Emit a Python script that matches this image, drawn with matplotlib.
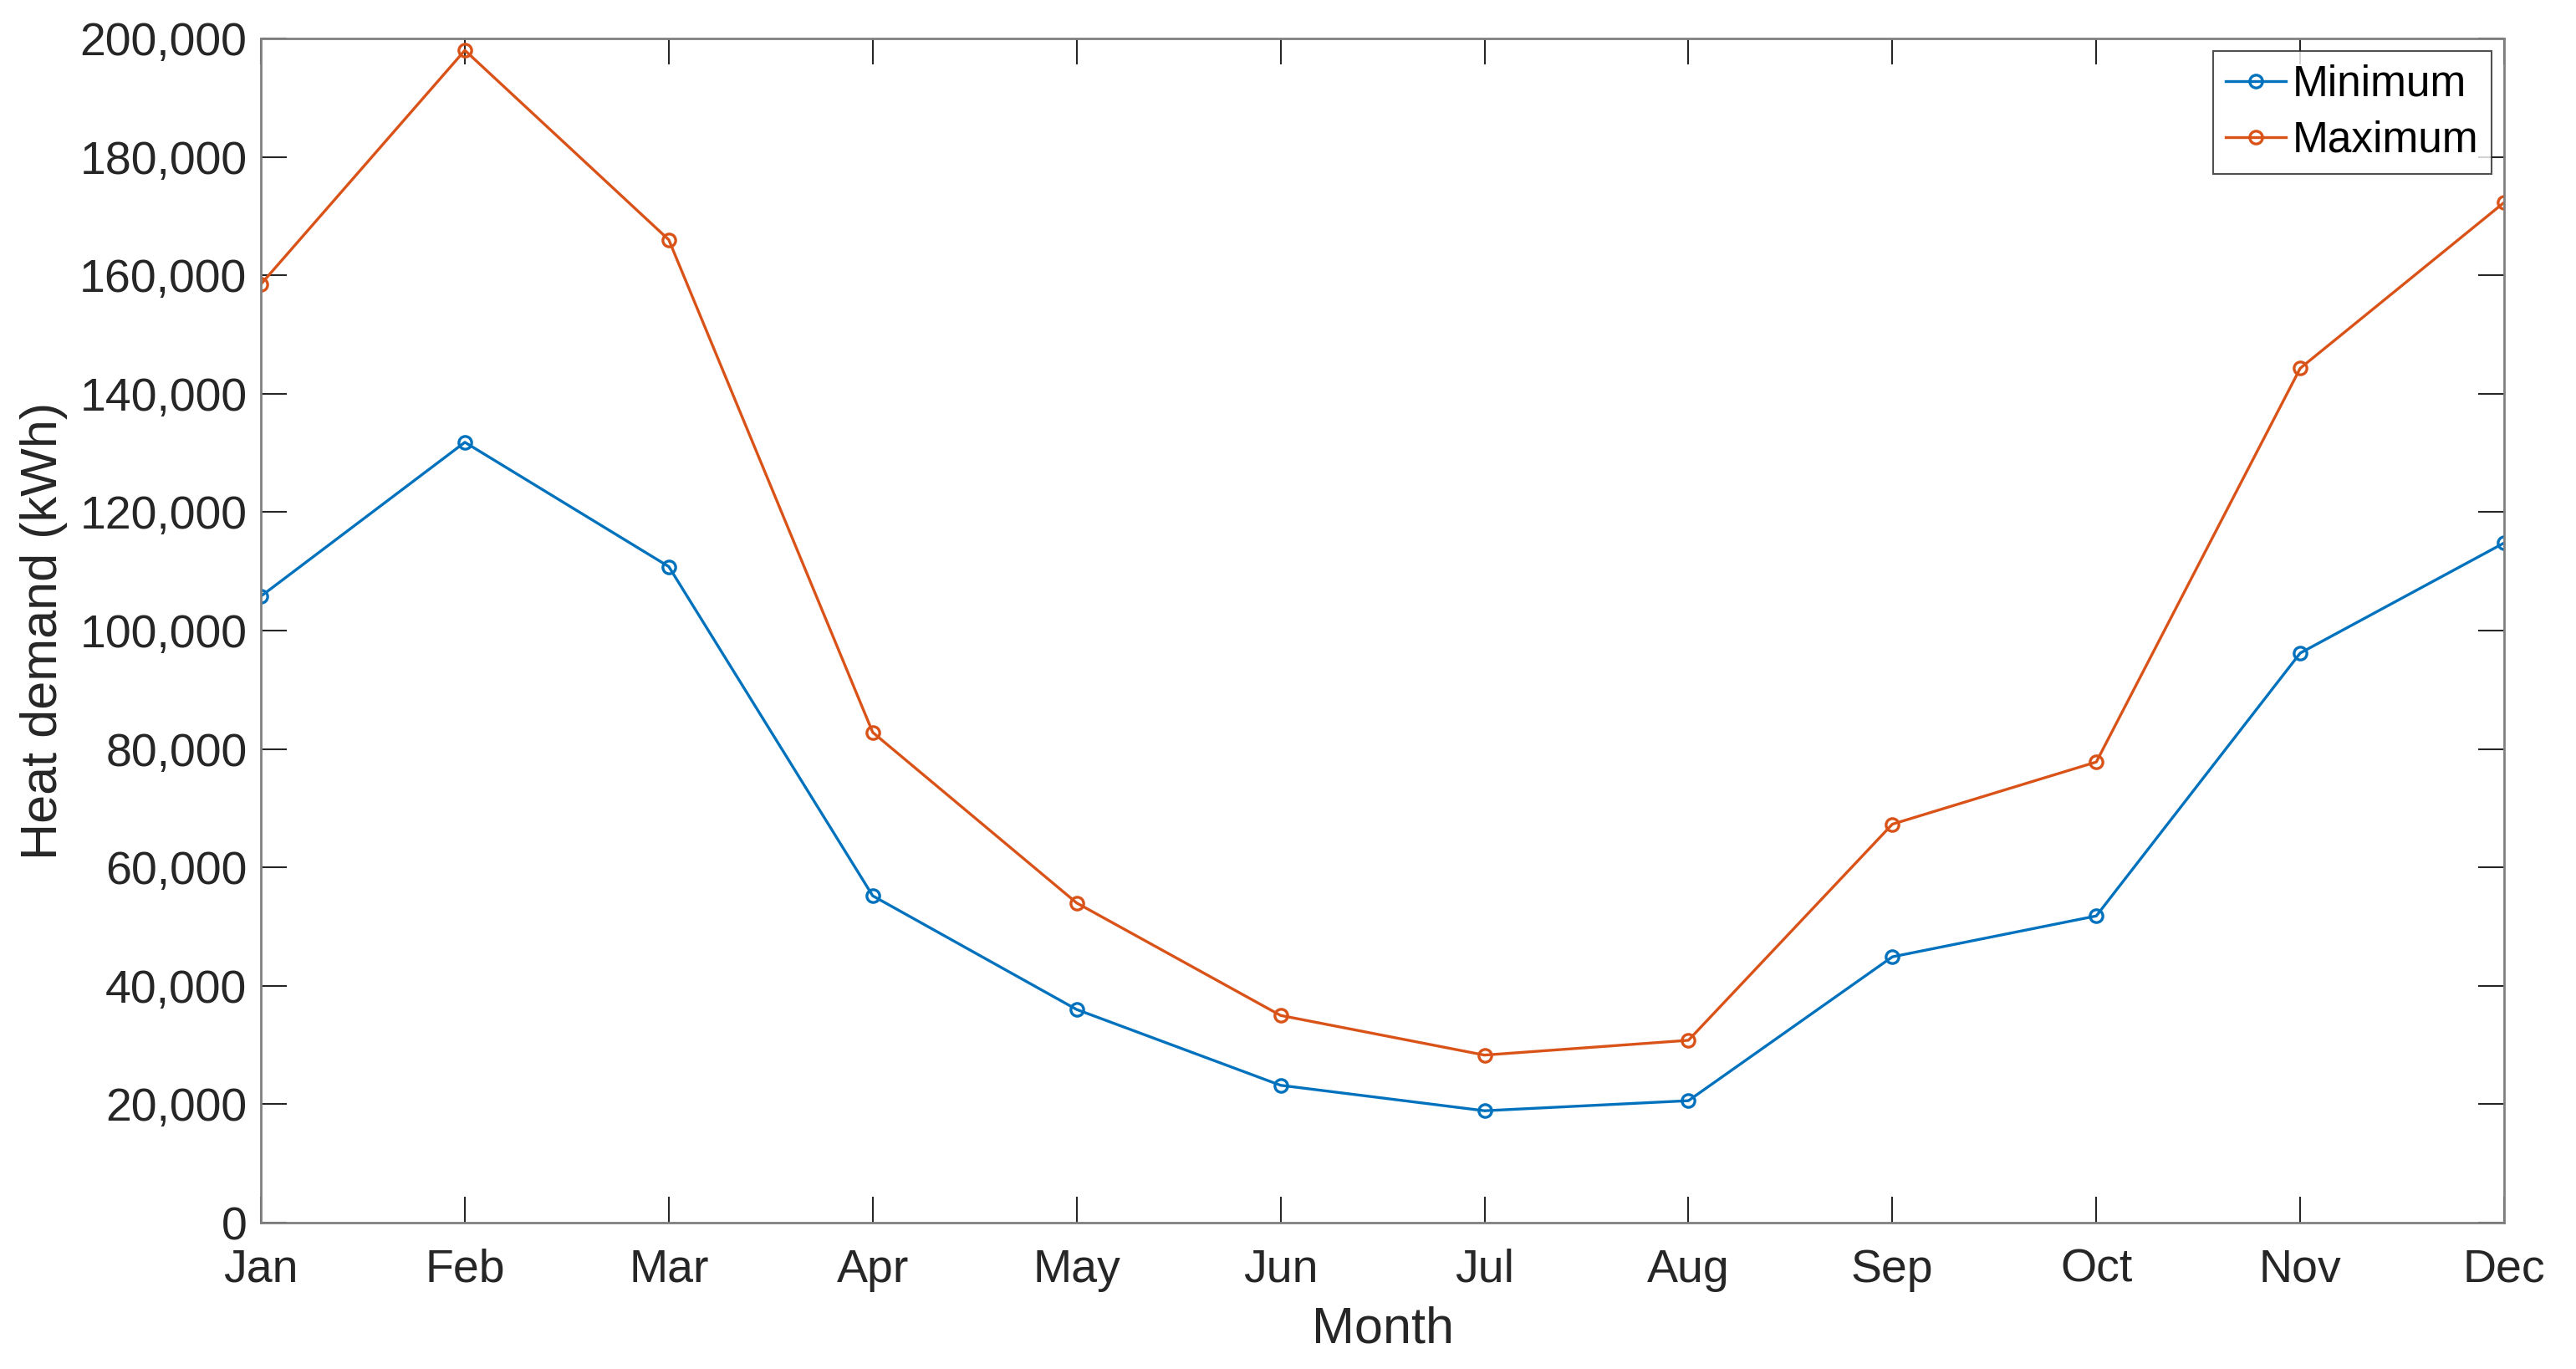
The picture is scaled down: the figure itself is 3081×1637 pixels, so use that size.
import matplotlib
matplotlib.use("Agg")
import matplotlib.pyplot as plt
from matplotlib.ticker import FuncFormatter

months = ["Jan", "Feb", "Mar", "Apr", "May", "Jun", "Jul", "Aug", "Sep", "Oct", "Nov", "Dec"]
minimum = [105800, 131800, 110800, 55200, 36000, 23200, 18900, 20600, 44900, 51800, 96200, 114800]
maximum = [158500, 198000, 166000, 82800, 54000, 35000, 28300, 30800, 67300, 77800, 144300, 172300]

plt.rcParams['font.family'] = ['Liberation Sans', 'DejaVu Sans']

fig = plt.figure(figsize=(30.81, 16.37), dpi=100)
ax = fig.add_axes([0.1013, 0.1069, 0.8708, 0.8650])

x = list(range(1, 13))
ax.plot(x, minimum, color='#0072BD', lw=2.4, marker='o', ms=11, mfc='none', mew=2.4, label='Minimum')
ax.plot(x, maximum, color='#D95319', lw=2.4, marker='o', ms=11, mfc='none', mew=2.4, label='Maximum')

ax.set_xlim(1, 12)
ax.set_ylim(0, 200000)
ax.set_xticks(x)
ax.set_xticklabels(months)
ax.set_yticks(range(0, 200001, 20000))
ax.yaxis.set_major_formatter(FuncFormatter(lambda v, p: f"{int(v):,}"))

ax.tick_params(direction='in', length=22, width=1.5, color='#262626', labelsize=40,
               top=True, right=True, labelcolor='#262626')
ax.tick_params(axis='y', pad=12)
ax.tick_params(axis='x', pad=22)
for s in ax.spines.values():
    s.set_color('#808080')
    s.set_linewidth(2)

ax.set_xlabel('Month', fontsize=44, color='#262626', labelpad=12)
ax.set_ylabel('Heat demand (kWh)', fontsize=44, color='#262626', labelpad=10)

leg = ax.legend(loc='upper right', fontsize=37, frameon=True, fancybox=False,
                handlelength=1.4, handletextpad=0.15, borderpad=0.3, labelspacing=0.35,
                borderaxespad=0.3)
leg.get_frame().set_edgecolor('#262626')
leg.get_frame().set_linewidth(1.5)

fig.savefig('out.png', dpi=100)
